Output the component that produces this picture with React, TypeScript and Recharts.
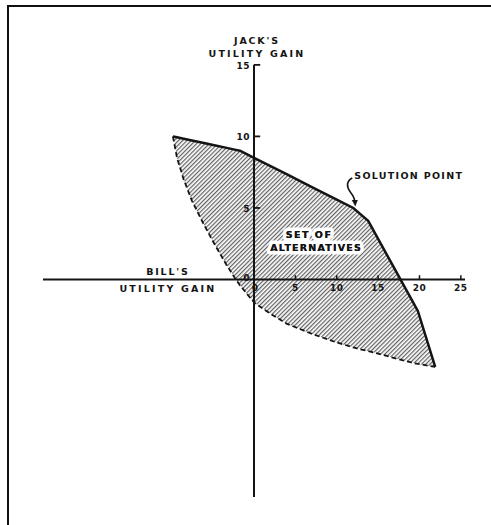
import React from 'react';
import { ComposedChart, Area, Line, XAxis, YAxis, ReferenceLine, ReferenceDot } from 'recharts';

// Bill's gain along the region, with Jack's gain on the lower (dashed) and upper (solid) edge
const billGain = [-9.8, -9.3, -8.5, -7.5, -6.2, -4.8, -3.3, -2.2, -1.7, -1, 0, 2, 4, 7, 10, 12, 13, 13.8, 16.4, 19, 19.8, 21.9];
const jackLower = [10.0, 8.5, 7.0, 5.5, 4.0, 2.5, 1.0, 0.0, -0.4, -0.9, -1.6, -2.4, -3.1, -3.8, -4.4, -4.75, -4.9, -5.0, -5.4, -5.8, -5.9, -6.1];
const jackUpper = [10.0, 9.94, 9.84, 9.72, 9.56, 9.38, 9.2, 9.06, 9.0, 8.8, 8.5, 7.92, 7.34, 6.46, 5.58, 5.0, 4.5, 4.1, 1.37, -1.36, -2.2, -6.1];

const xTicks = [0, 5, 10, 15, 20, 25];
const yTicks = [0, 5, 10, 15];
const solutionPoint = { x: 12, y: 5 };

const X_DOMAIN = [-25.5, 25.5];
const Y_DOMAIN = [-15.2, 15.2];

const ink = '#141414';
const font = '"DejaVu Sans", sans-serif';

const data = billGain.map((x, i) => ({
  x,
  lo: jackLower[i],
  hi: jackUpper[i],
  range: [jackLower[i], jackUpper[i]],
}));

const txt = (dx: number, dy: number, s: string, anchor = 'middle', spacing = 1.5, size = 9.5, halo = false) => (
  <text
    key={s + dx + dy + (halo ? 'h' : '')}
    dx={dx}
    dy={dy}
    textAnchor={anchor}
    dominantBaseline="central"
    fontFamily={font}
    fontWeight={700}
    fontSize={size}
    letterSpacing={spacing}
    fill={ink}
    stroke={halo ? '#fff' : 'none'}
    strokeWidth={halo ? 7 : 0}
    strokeLinejoin="round"
    paintOrder="stroke"
  >
    {s}
  </text>
);

// draws text next to a data point
const at = (items: (p: any) => React.ReactNode) => (p: any) => (
  <g transform={`translate(${p.cx},${p.cy})`}>{items(p)}</g>
);

const App = () => {
  return (
    <div style={{ position: 'absolute', left: 0, top: 0, width: 491, height: 525, background: '#fff', overflow: 'hidden' }}>
      <div
        style={{
          position: 'absolute',
          left: 7,
          top: 5,
          width: 500,
          height: 540,
          borderTop: '2.5px solid #111',
          borderLeft: '2.5px solid #111',
        }}
      />
      <ComposedChart
        width={491}
        height={525}
        data={data}
        margin={{ top: 62, right: 26, bottom: 28, left: 43 }}
        style={{ position: 'absolute', left: 0, top: 0 }}
      >
        <defs>
          <pattern id="hatch" width="3" height="10" patternUnits="userSpaceOnUse" patternTransform="rotate(45)">
            <line x1="0.7" y1="0" x2="0.7" y2="10" stroke="#333" strokeWidth="0.95" />
          </pattern>
        </defs>
        <XAxis type="number" dataKey="x" domain={X_DOMAIN} allowDataOverflow hide />
        <YAxis type="number" domain={Y_DOMAIN} allowDataOverflow hide />

        <Area
          dataKey="range"
          type="linear"
          stroke="none"
          fill="url(#hatch)"
          fillOpacity={1}
          isAnimationActive={false}
        />
        <Line dataKey="lo" type="linear" stroke={ink} strokeWidth={1.8} strokeDasharray="5 3" dot={false} isAnimationActive={false} />
        <Line dataKey="hi" type="linear" stroke={ink} strokeWidth={2.5} dot={false} isAnimationActive={false} />

        {/* axes through the origin */}
        <ReferenceLine segment={[{ x: X_DOMAIN[0], y: 0 }, { x: X_DOMAIN[1], y: 0 }]} stroke={ink} strokeWidth={2} ifOverflow="visible" />
        <ReferenceLine segment={[{ x: 0, y: Y_DOMAIN[0] }, { x: 0, y: 15 }]} stroke={ink} strokeWidth={2} ifOverflow="visible" />

        {xTicks.filter(t => t > 0).map(t => (
          <ReferenceLine key={`xt${t}`} segment={[{ x: t, y: 0 }, { x: t, y: 0.3 }]} stroke={ink} strokeWidth={1.5} ifOverflow="visible" />
        ))}
        {yTicks.filter(t => t > 0).map(t => (
          <ReferenceLine key={`yt${t}`} segment={[{ x: 0, y: t }, { x: 0.75, y: t }]} stroke={ink} strokeWidth={1.8} ifOverflow="visible" />
        ))}

        {xTicks.map(t => (
          <ReferenceDot key={`xl${t}`} x={t} y={0} r={0} ifOverflow="visible"
            shape={at(() => txt(t === 0 ? 1 : 0, 8.5, String(t), 'middle', 0.5, 9))} />
        ))}
        {yTicks.map(t => (
          <ReferenceDot key={`yl${t}`} x={0} y={t} r={0} ifOverflow="visible"
            shape={at(() => txt(-4, t === 0 ? -1.5 : 1, String(t), 'end', 0.5, 9))} />
        ))}

        {/* axis titles */}
        <ReferenceDot x={0} y={15} r={0} ifOverflow="visible"
          shape={at(() => [txt(3, -24, "JACK'S", 'middle', 1.8), txt(3, -11, 'UTILITY GAIN', 'middle', 2.2)])} />
        <ReferenceDot x={-10.4} y={0} r={0} ifOverflow="visible"
          shape={at(() => [txt(0, -8, "BILL'S", 'middle', 1.8), txt(0, 9, 'UTILITY GAIN', 'middle', 2.2)])} />

        {/* region label */}
        <ReferenceDot x={7.5} y={2.7} r={0} ifOverflow="visible"
          shape={at(() => [txt(-7, -6, 'SET OF', 'middle', 1.5, 9.5, true), txt(0, 6.5, 'ALTERNATIVES', 'middle', 1.2, 9.5, true),
            txt(-7, -6, 'SET OF', 'middle', 1.5), txt(0, 6.5, 'ALTERNATIVES', 'middle', 1.2)])} />

        {/* solution point with curved arrow */}
        <ReferenceDot x={solutionPoint.x} y={solutionPoint.y} r={0} ifOverflow="visible"
          shape={at(() => (
            <g>
              <path d="M -1 -30 C -7 -27, -7 -21, -3 -16 S 2 -8, 1.5 -4" fill="none" stroke={ink} strokeWidth={1.6} />
              <path d="M -1.5 -8 L 2 -1.5 L 4.5 -8 Z" fill={ink} />
              {txt(1, -32, 'SOLUTION POINT', 'start', 1.3)}
            </g>
          ))} />
      </ComposedChart>
    </div>
  );
};

export default App;
